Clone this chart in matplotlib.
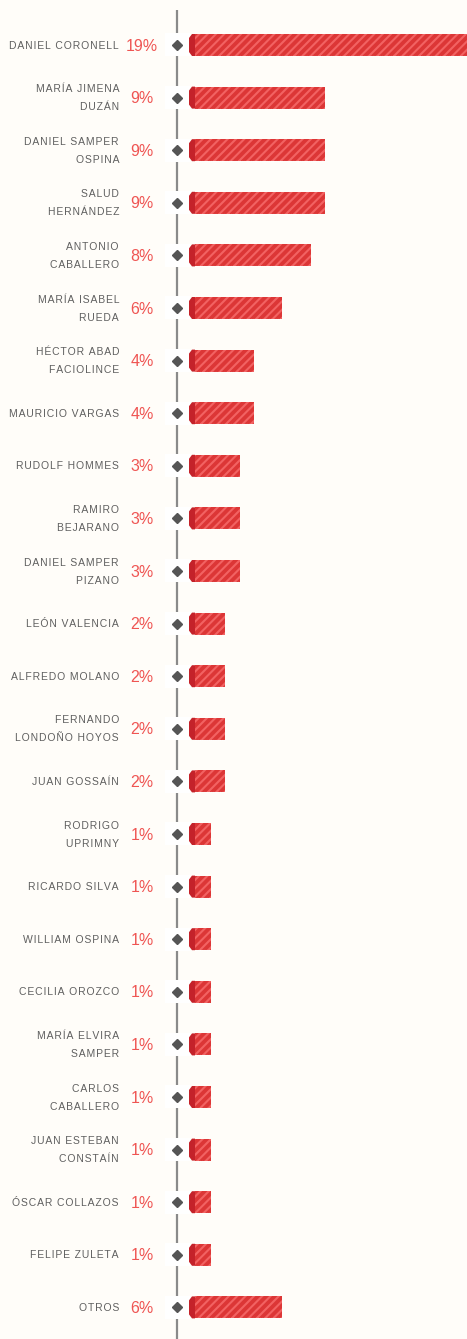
import matplotlib
matplotlib.use("Agg")
import matplotlib.pyplot as plt
from matplotlib.patches import Rectangle, Polygon

plt.rcParams['font.family'] = ['Liberation Sans', 'DejaVu Sans']
plt.rcParams['hatch.linewidth'] = 1.5

# columnistas y porcentaje
names = ["DANIEL CORONELL", "MARÍA JIMENA\nDUZÁN", "DANIEL SAMPER\nOSPINA",
         "SALUD\nHERNÁNDEZ", "ANTONIO\nCABALLERO", "MARÍA ISABEL\nRUEDA",
         "HÉCTOR ABAD\nFACIOLINCE", "MAURICIO VARGAS", "RUDOLF HOMMES",
         "RAMIRO\nBEJARANO", "DANIEL SAMPER\nPIZANO", "LEÓN VALENCIA",
         "ALFREDO MOLANO", "FERNANDO\nLONDOÑO HOYOS", "JUAN GOSSAÍN",
         "RODRIGO\nUPRIMNY", "RICARDO SILVA", "WILLIAM OSPINA",
         "CECILIA OROZCO", "MARÍA ELVIRA\nSAMPER", "CARLOS\nCABALLERO",
         "JUAN ESTEBAN\nCONSTAÍN", "ÓSCAR COLLAZOS", "FELIPE ZULETA", "OTROS"]
values = [19, 9, 9, 9, 8, 6, 4, 4, 3, 3, 3, 2, 2, 2, 2,
          1, 1, 1, 1, 1, 1, 1, 1, 1, 6]
labels = [f"{v}%" for v in values]

W, H = 467, 1339
bg = "#fffdf9"
bar_red = "#dc3636"
stripe = "#f26262"
cap_red = "#c4222a"
pct_red = "#ef5553"
gray_txt = "#5f5f5f"

px = 14.25           # pixels per percent
row = 52.6           # pixels per row
x0 = 189             # bar start pixel


def spaced(s):
    # a bit of tracking between the letters
    return "\n".join("\u200a".join(part) for part in s.split("\n"))


fig = plt.figure(figsize=(W / 100, H / 100), dpi=100, facecolor=bg)
ax = fig.add_axes([x0 / W, 0, (W - x0) / W, 1])
ax.set_facecolor(bg)
ax.set_xlim(0, (W - x0) / px)
ax.set_ylim((H - 45) / row, -45 / row)
ax.axis("off")

line_x = (177 - x0) / px
pct_x = (142 - x0) / px
name_x = (119 - x0) / px
bh = 22 / row
cap_w = 6 / px
bev_x = 3 / px
bev_y = 4 / row

ax.plot([line_x, line_x], [-35 / row, (H - 45) / row], color="#8a8a8a",
        lw=1.6, zorder=1, clip_on=False, solid_capstyle="butt")

for i, (n, v, lab) in enumerate(zip(names, values, labels)):
    y = i
    # white box behind the marker
    ax.add_patch(Rectangle(((165 - x0) / px, y - 11.5 / row), 25 / px, 23 / row,
                           facecolor="white", edgecolor="none",
                           zorder=2, clip_on=False))
    ax.plot(line_x, y, marker="D", ms=5.5, color="#555555", zorder=3, clip_on=False)
    length = v + 7.75 / px
    ax.add_patch(Rectangle((cap_w, y - bh / 2), length - cap_w, bh,
                           facecolor=bar_red, edgecolor=stripe, hatch="////",
                           lw=0, zorder=3))
    ax.plot([cap_w, length], [y + bh / 2, y + bh / 2], color="white", lw=0.8,
            ls=(0, (1, 1)), zorder=4)
    ax.add_patch(Polygon([(cap_w, y - bh / 2), (bev_x, y - bh / 2),
                          (0, y - bh / 2 + bev_y), (0, y + bh / 2 - bev_y),
                          (bev_x, y + bh / 2), (cap_w, y + bh / 2)],
                         closed=True, facecolor=cap_red, edgecolor="none", zorder=4))
    ax.text(pct_x, y + 0.02, lab, ha="center", va="center", fontsize=11.5,
            color=pct_red, clip_on=False)
    ax.text(name_x, y + 0.01, spaced(n), ha="right", va="center", fontsize=7.5,
            color=gray_txt, linespacing=2.0, clip_on=False)

fig.savefig("out.png", dpi=100, facecolor=bg)
